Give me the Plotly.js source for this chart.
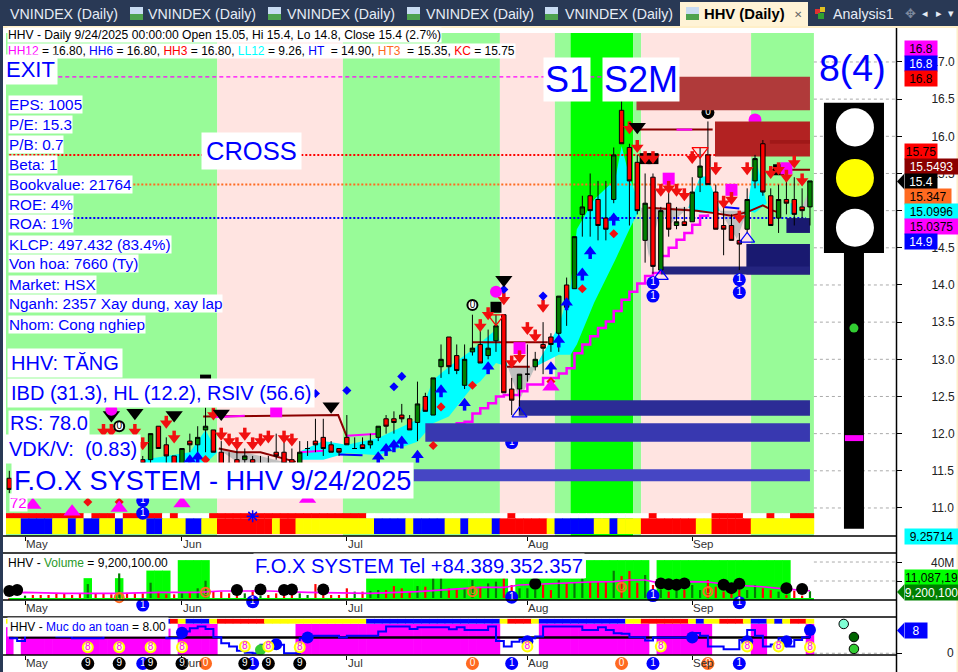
<!DOCTYPE html>
<html><head><meta charset="utf-8">
<script src="https://cdn.plot.ly/plotly-3.0.1.min.js"></script>
<style>html,body{margin:0;padding:0;background:#fff;overflow:hidden}#c{width:958px;height:672px}</style>
</head><body><div id="c"></div>
<script>
// ---------- candles (first bar index = -2, last = 100) ----------
const firstBar=-2;
const opens=[11.4,11.3,11.25,11.5,11.55,11.5,11.6,11.65,11.6,11.6,11.5,11.7,11.7,11.7,11.6,11.85,11.8,11.65,11.65,12.1,11.85,11.7,11.45,11.9,11.85,12.05,12.05,11.75,11.6,11.65,11.65,11.65,11.55,11.6,11.75,11.75,11.65,11.55,11.8,11.9,11.95,11.85,11.8,11.95,11.8,11.85,11.85,11.95,12.2,12.2,12.25,12.2,12.15,12.5,12.25,12.9,13.3,13.05,12.65,13.1,13.2,13.05,13.25,13.6,12.6,12.6,12.8,12.9,13.2,13.3,13.35,14.0,13.95,14.95,15.2,15.15,14.9,15.15,16.35,15.85,15.65,14.6,15.45,14.2,15.1,14.8,14.85,14.85,15.45,15.75,15.25,14.8,14.8,14.6,14.75,15.4,15.9,15.2,14.9,15.15,15.15,15.05,15.05];
const highs=[11.5,11.35,11.45,11.6,11.6,11.55,11.65,11.7,11.65,11.65,11.75,11.75,11.75,11.8,11.9,11.95,11.85,11.7,12.0,12.1,11.95,11.7,11.8,12.0,12.1,12.35,12.05,11.9,11.75,11.8,11.8,11.7,11.7,11.7,12.0,12.0,11.8,11.9,11.9,12.2,12.2,11.9,11.8,12.25,11.95,11.95,12.0,12.1,12.25,12.3,12.4,12.25,12.7,12.55,12.75,13.2,13.3,13.2,13.2,13.6,13.4,13.4,13.6,13.6,12.75,12.8,13.2,13.1,13.5,13.35,13.85,14.1,14.65,15.2,15.5,15.4,15.4,15.85,16.8,15.9,15.75,15.5,15.5,15.05,15.35,15.05,15.05,15.45,15.85,16.2,15.35,15.05,14.95,14.7,15.3,15.75,15.95,15.3,15.35,15.4,15.45,15.3,15.4];
const lows=[11.2,11.2,11.2,11.35,11.4,11.35,11.45,11.5,11.5,11.5,11.45,11.55,11.6,11.6,11.55,11.7,11.65,11.55,11.6,11.8,11.45,11.45,11.45,11.75,11.75,11.75,11.75,11.45,11.45,11.45,11.6,11.55,11.5,11.5,11.65,11.6,11.6,11.55,11.7,11.75,11.7,11.75,11.7,11.85,11.8,11.8,11.8,11.9,12.0,12.0,12.15,12.05,11.9,12.3,12.25,12.75,12.8,12.8,12.6,13.05,12.95,13.0,13.1,12.55,12.25,12.3,12.7,12.85,12.8,13.1,13.1,13.45,13.95,14.65,14.65,14.6,14.6,15.1,15.9,14.8,14.95,14.3,14.15,14.2,14.65,14.75,14.8,14.85,15.25,15.35,14.75,14.4,14.6,14.2,14.7,15.3,15.2,14.8,14.7,14.95,14.8,14.9,14.8];
const closes=[11.25,11.25,11.4,11.4,11.45,11.4,11.5,11.55,11.55,11.55,11.7,11.6,11.65,11.65,11.85,11.75,11.7,11.6,12.0,11.8,11.7,11.45,11.8,11.85,11.95,12.1,11.75,11.45,11.5,11.45,11.7,11.6,11.6,11.55,11.7,11.6,11.6,11.75,11.8,11.85,11.8,11.75,11.75,11.85,11.8,11.8,11.9,12.1,12.1,12.15,12.2,12.05,12.4,12.3,12.75,13.0,12.9,12.85,13.0,13.15,12.95,13.15,13.45,12.55,12.45,12.8,12.8,13.0,13.15,13.2,13.85,13.7,14.65,15.05,15.0,14.8,14.75,15.75,15.9,15.4,15.0,15.1,14.25,15.0,14.75,14.85,14.8,15.25,15.6,15.35,14.75,14.75,14.6,14.55,15.15,15.7,15.25,14.8,15.15,15.1,14.95,15.0,15.4];
const volumesM=[1.8,1.8,4.6,5.3,5.3,5.3,7,7,5.3,7,16.8,7,7,6,28,7,7,7,18.2,8.8,6,6,7,8.8,12.3,20.3,8.8,8.8,7,5.3,7,10.5,4.6,5.3,7,7,7,7,5.3,16.8,5.3,5.3,5.3,12.3,8.8,8.8,9.5,10.5,10.5,14.7,12.3,8.8,14.7,14,22.8,22.8,12.3,12.3,12.3,21,14,17.5,19.3,22.8,15.8,12.3,12.3,10.5,15.8,10.5,21,17.5,18.2,22.8,19.3,19.3,19.3,30.8,25.2,30.5,18.2,26.3,15.8,10.5,8.8,10.5,10.5,15.8,10.5,21,14,8.8,8.8,10.5,10.5,15.8,12.3,10.5,8.8,5.3,9.8,4.6,9.2];
const volBlockM=[0,0,0,0,0,0,0,0,0,0,23,0,0,0,23,0,0,0,31,31,31,0,42,42,42,42,0,0,0,0,0,0,0,0,0,0,0,0,0,0,0,0,0,0,0,0,23,23,23,23,23,23,23,23,23,23,23,23,23,23,23,23,23,23,0,23,23,23,23,23,23,23,23,23,42,42,42,42,42,42,42,42,0,42,42,42,42,42,42,42,42,42,42,42,42,42,42,42,42,42,0,0,0];
const safety=[5.2,4.25,6.3,6.3,6.3,6.3,5.75,5.75,5.2,5.2,5.2,5.2,6.3,6.3,6.3,6.3,6.3,6.3,6.3,6.3,5.2,5.2,7.5,8.6,9.2,8.4,5.5,3.45,2.3,0.9,0.2,0,2.9,3.45,2.9,0,0,5.2,6,6,6,6,5.4,6,6,6,6,7.5,9.2,9.2,9.2,8.4,9,9,9,9,8.3,9,8,8,8,9.2,4.25,2.3,4,4.9,5.2,5.75,9.2,9.2,9.2,9.2,9.2,8.05,8.05,9,8,6.9,6.7,5.5,5.5,4.4,5.4,5.4,5.4,5.4,5.4,7,6,2.3,2.3,1.4,1.4,4.6,8,6,2.3,3,5.2,2.3,4.6,5.5,8.0].slice(0,103);
// ---------- colour rows, as [state, last bar index] runs ----------
const rowA=[['w',-1],['b',3],['w',5],['b',6],['w',7],['b',9],['w',11],['b',12],['w',15],['b',17],['w',20],['b',22],['w',24],['r',31],['w',32],['r',34],['w',44],['b',48],['w',49],['b',53],['w',55],['b',56],['w',59],['b',60],['r',66],['w',67],['b',72],['w',74],['b',75],['w',78],['r',85],['w',87],['r',92],['w',100]];
const rowB=[['r',7],['n',8],['r',11],['n',12],['r',17],['n',18],['r',19],['n',23],['r',43],['n',61],['r',62],['n',79],['r',80],['n',87],['r',91],['n',94],['r',95],['n',97],['r',100]];
const rowC=[['w',-2],['b',3],['w',5],['b',9],['w',12],['b',18],['r',19],['w',20],['b',23],['w',24],['r',30],['w',43],['b',60],['w',61],['r',64],['w',65],['b',76],['w',78],['r',84],['w',85],['b',86],['w',88],['r',91],['w',92],['b',94],['w',95],['b',96],['w',97],['r',99],['w',100]];
const pinkRuns=[[-2,-2,9],[0,18,8.5],[20,24,10.1],[35,60,10.1],[66,79,10.1],[81,87,10.1],[93,94,10.1],[100,100,10.1]];
// ---------- background bands and zones ----------
const bandEdges=[-2.5,24.5,40.5,60.5,67.5,69.5,77.5,78.5,92.5,100.5];
const bandKinds=['pale','mist','pale','mist','pale','lime','pale','mist','pale'];
const zoneK0=[77.9,87.9,94.9,97,91.9,81,62.9,51,49.5];
const zoneK1=[100,100,100,100,100,100,100,100,100];
const zoneHi=[16.8,16.2,15.95,14.9,14.55,14.25,12.45,12.14,11.52];
const zoneLo=[16.35,15.73,15.9,14.7,14.14,14.14,12.24,11.89,11.36];
const zoneFill=['#B03A3A','#B22222','#A01818','#191970','#191970','#24247F','#2C2C96','#3838B0','#4646C4'];
// ---------- cloud ----------
const cloudSegs=[
 {k:[13,15,21,23,24.5],up:[11.6,11.65,11.75,12.05,11.75],lo:[11.55,11.55,11.55,11.6,11.75],c:'#00FFFF'},
 {k:[24.5,28,33,35],up:[11.8,11.75,11.62,11.6],lo:[11.8,11.55,11.55,11.6],c:'#C0C0C0'},
 {k:[35,38,41,45,50,52,54,57,58,60,61.5],up:[11.76,11.9,11.85,11.94,12.19,12.72,12.9,13.13,13.22,13.4,12.9],lo:[11.65,11.65,11.74,11.71,11.89,12.14,12.23,12.63,12.7,12.95,12.9],c:'#00FFFF'},
 {k:[61.5,63,65],up:[12.9,12.9,12.9],lo:[12.9,12.45,12.9],c:'#C0C0C0'},
 {k:[65,68,69.5,70.3,72.5,75.2,76,77,78.4],up:[12.9,13.44,13.98,14.75,15.15,15.42,15.87,15.46,15.04],lo:[12.9,13.06,13.06,13.2,13.76,14.34,14.52,14.75,15.04],c:'#00FFFF'},
 {k:[78.4,79.5,81],up:[15.04,15.04,15.04],lo:[15.04,14.37,15.04],c:'#C0C0C0'},
 {k:[81,82,84.5],up:[15.04,15.04,15.04],lo:[15.04,14.8,15.04],c:'#C0C0C0'},
 {k:[84.5,86,87,88.5],up:[15.04,15.46,15.46,15.0],lo:[15.04,14.97,14.97,15.0],c:'#00FFFF'},
 {k:[88.5,90.7,92],up:[15.0,15.0,15.0],lo:[15.0,14.62,15.0],c:'#C0C0C0'},
 {k:[92,93,94.5],up:[15.0,15.74,15.1],lo:[15.0,14.97,15.1],c:'#00FFFF'},
 {k:[97.5,98.4],up:[15.1,15.1],lo:[14.95,14.95],c:'#00FFFF'},
 {k:[99,100],up:[15.05,15.3],lo:[15.05,15.05],c:'#C0C0C0'}
];
// ---------- lines ----------
const stepK=[52,53,54,55,56,57,58,59,60,61,62,63,64,65,66,67,68,69,70,71,72,73,74,75,76,77,78,79,80,81,82,83,84,85,86,87];
const stepP=[11.92,12.0,12.05,12.14,12.16,12.27,12.34,12.41,12.5,12.52,12.52,12.57,12.66,12.66,12.75,12.75,12.81,12.88,13.08,13.2,13.31,13.42,13.51,13.65,13.8,13.91,14.02,14.12,14.16,14.39,14.5,14.61,14.7,14.81,14.93,14.95];
const darkLines=[
 {k:[22.7,39.9,41],p:[12.23,12.25,11.96]},
 {k:[24.7,27,30,33,34.5],p:[11.8,11.75,11.75,11.67,11.62]},
 {k:[57,66.6],p:[13.23,13.23]},
 {k:[61.4,64.3],p:[12.9,12.9]},
 {k:[78,87.6],p:[16.09,16.09]},
 {k:[79.4,85.6,87.6,90,92,94,95.3,96.2],p:[15.04,15.0,14.97,14.93,14.98,15.07,15.0,14.97]},
 {k:[94.9,100],p:[15.55,15.55]}
];
const magentaBits=[{k:[41,45],p:[11.97,12.0]},{k:[35,38],p:[11.75,11.77]},{k:[83,85],p:[16.09,16.09]},{k:[24,28],p:[12.22,12.24]}];
const blueBits=[{k:[40,43],p:[11.72,11.71]},{k:[89,91],p:[15.05,15.03]}];
const levelP=[16.8,15.75,15.35,14.9];
const levelEnd=[81,88,99,99.5];
// ---------- markers ----------
const downK=[10,11,14,15,18,19,24,25,26,27,28,29,30,31,33,34,58,59,61,62,63,64,65,66,77,78,79,80,81,82,83,84,85,88,89,90,91,92,95,96,97,98,99];
const downP=[12.03,12.03,12.03,11.85,12.14,11.94,12.25,11.98,11.9,11.85,11.98,11.85,11.9,11.94,11.94,11.9,13.44,13.6,13.8,12.95,13.02,13.4,13.3,13.7,16.1,15.85,15.7,15.7,15.26,15.3,15.26,15.2,15.7,15.55,15.1,15.15,14.9,15.55,15.5,15.55,15.45,15.64,15.4];
const upK=[21,22,45,46,47,48,50,53,56,59,67,68,69,71,72,75];
const upP=[11.65,11.69,11.69,11.8,11.85,11.9,11.71,12.59,12.41,12.9,12.9,13.26,13.76,14.16,14.45,14.9];
const blueDiaK=[37,41,47,48,61,66];
const blueDiaP=[12.54,12.58,12.63,12.77,13.94,13.85];
const redDiaK=[8,12,23,52,53,57,67,71,75];
const redDiaP=[11.08,11.08,11.65,11.84,12.36,12.65,12.7,13.95,14.69];
const magTriK=[1,6,12,20,36,67];
const magTriP=[11.04,10.95,11.0,11.06,11.12,12.63];
const blackTriK=[11,14,19,25,39,61,78];
const blackTriP=[12.25,12.28,12.25,12.27,12.37,14.07,16.13];
const blackSqK=[23,60,79,80,96];
const blackSqP=[12.72,13.7,15.7,15.7,15.55];
const magSqK=[32,63,82,90,97];
const magSqP=[12.3,13.15,15.43,15.28,15.57];
const magDotK=[60,11];
const magDotP=[13.91,12.32];
const hollowRedK=[60,86];
const hollowRedP=[13.55,15.8];
const hollowBlueK=[63,81,92];
const hollowBlueP=[12.27,14.12,14.62];
const zeroK=[12,57];
const zeroP=[12.1,13.73];
const oneK=[15,15,80,80,91,91];
const oneP=[11.1,10.93,14.03,13.85,14.07,13.9];
const hiddenK=[87,62,62,93];
const hiddenP=[16.32,12.0,11.88,16.22];
const hiddenT=['0','1','1',''];
const hiddenC=['#000','#00f','#00f','#f0f'];
// ---------- lower panels ----------
const maK=[-2,0,5,12,17,22,25,31,36,44,50,53,55,58,61,63,66,69,72,75,77,79,81,85,87,90,94,97,100];
const maV=[7,8,7,7,8,8,9.5,9.5,8,7,8.8,10.5,12.3,13.3,13.3,15.8,16.8,18.2,18.9,19.3,21,21,17.5,19.3,19,15.8,14,11.5,9.7];
const volDotK=[-2,-1,27,30,33,34,38,65,81,82,83,84,89,90,91,97,99];
const volDotV=[9.5,10.5,10.5,11,10.5,11,11,17,17.5,16.5,16,17.5,16,12.5,17,12.5,11.5];
const volZeroK=[12,23,57,76,87];
const volZeroV=[2.5,8.2,8.8,13.5,8.8];
const volOneK=[62,80];
const volOneV=[3,4.7];
const stripOneK=[15,29,91];
const stripOneV=[0.7,0.9,0.84];
const dotK=[20,32,36,64,85,92,97,100];
const dotV=[7.1,3.1,5.4,4.1,5.4,4.1,4.1,8];
const yellowK=[8,12,16,20,28,31,35,64,81,92,96,100];
const yellowV=[2.1,2.1,2.1,2.1,2.3,2.3,2.1,2.3,2.3,2.3,2.3,2.1];
const nineK=[8,12,16,20,28,31,35];
const oneBelowK=[15,29,62,80,91];
const zeroBelowK=[23,57,76,87];
const belowV=0.5;
const monthK=[0,20,41,64,85];
const monthNames=['May','Jun','Jul','Aug','Sep'];
const priceTicks=[11,11.5,12,12.5,13,13.5,14,14.5,15,15.5,16,16.5,17];
const priceTickText=['11.0','11.5','12.0','12.5','13.0','13.5','14.0','14.5','15.0','15.5','16.0','16.5','17.0'];
const infoLines=['EPS: 1005','P/E: 15.3','P/B: 0.7','Beta: 1','Bookvalue: 21764','ROE: 4%','ROA: 1%','KLCP: 497.432 (83.4%)','Von hoa: 7660 (Ty)','Market: HSX','Nganh: 2357 Xay dung, xay lap','Nhom: Cong nghiep'];
const tabNames=['VNINDEX (Daily)','VNINDEX (Daily)','VNINDEX (Daily)','VNINDEX (Daily)','VNINDEX (Daily)'];
const priceTagText=['16.8','16.8','16.8','15.75','15.5493','15.4','15.347','15.0996','15.0375','14.9'];
const priceTagFill=['#FF00FF','#0000FF','#FF0000','#FF0000','#8B0000','#000000','#FF6A20','#00FFFF','#FF00FF','#0000FF'];
const priceTagInk=['#000','#fff','#000','#000','#fff','#fff','#000','#000','#000','#fff'];

// ---------- helpers ----------
const bars=opens.map((_,i)=>firstBar+i);
const W=958,H=672,BLUE='#0000FF',BW=1.08;
const px=x=>x/W, py=y=>1-y/H;
const colorOf={w:'#FFFF00',b:'#0000FF',r:'#FF0000',n:'#FFFFFF'};
const bandFill={pale:'#98FB98',mist:'#FFE4E1',lime:'#00FF00'};
const expand=r=>{const a=[];let k=firstBar;r.forEach(([s,e])=>{for(;k<=e;k++)a.push(colorOf[s]);});return a;};

const shapes=[];
const rect=(x0,y0,x1,y1,fill)=>shapes.push({type:'rect',xref:'paper',yref:'paper',x0:px(x0),x1:px(x1),y0:py(y0),y1:py(y1),fillcolor:fill,line:{width:0},layer:'below'});
rect(0,0,958,26,'#293955');rect(0,26,958,28,'#FFEFC8');rect(0,26,3,672,'#293955');rect(956.5,26,958,672,'#FFEFC8');rect(680,2,808,26,'#FFF3D6');
for(let i=0;i<bandKinds.length;i++)shapes.push({type:'rect',xref:'x',yref:'y',x0:bandEdges[i],x1:bandEdges[i+1],y0:10.62,y1:17.39,fillcolor:bandFill[bandKinds[i]],line:{width:0},layer:'below'});
priceTicks.forEach(p=>shapes.push({type:'line',xref:'x',yref:'y',x0:100.5,x1:110.96,y0:p,y1:p,line:{color:'#aaa',width:1,dash:'dot'},layer:'below'}));
[40,20].forEach(v=>shapes.push({type:'line',xref:'x2',yref:'y2',x0:100.5,x1:110.96,y0:v,y1:v,line:{color:'#aaa',width:1,dash:'dot'},layer:'below'}));
shapes.push({type:'line',xref:'x3',yref:'y3',x0:100.5,x1:110.96,y0:0,y1:0,line:{color:'#aaa',width:1,dash:'dot'},layer:'below'});
const sr=(x0,x1,y0,y1,f)=>shapes.push({type:'rect',xref:'x',yref:'y',x0,x1,y0,y1,fillcolor:f,line:{width:0},layer:'below'});
sr(101.78,109.43,14.43,16.45,'#000');sr(104.33,106.88,10.72,14.43,'#000');sr(104.45,106.8,11.9,11.98,'#FF00FF');
[[16.12,'#fff'],[15.44,'#FFFF00'],[14.77,'#fff']].forEach(([p,f])=>shapes.push({type:'circle',xref:'x',yref:'y',x0:105.73-2.42,x1:105.73+2.42,y0:p-0.256,y1:p+0.256,fillcolor:f,line:{width:0},layer:'below'}));
[536,553,600,617,655].forEach(y=>shapes.push({type:'line',xref:'paper',yref:'paper',x0:px(3),x1:px(896.5),y0:py(y),y1:py(y),line:{color:'#000',width:1.5}}));
shapes.push({type:'line',xref:'paper',yref:'paper',x0:px(896.5),x1:px(896.5),y0:py(28),y1:0,line:{color:'#000',width:1.5}});
[[181.5,'#000'],[592,'#008000'],[630.5,'#0000FF']].forEach(([y,f])=>shapes.push({type:'path',xref:'paper',yref:'paper',path:`M ${px(897)} ${py(y)} L ${px(904)} ${py(y-7.5)} L ${px(904)} ${py(y+7.5)} Z`,fillcolor:f,line:{width:0}}));
[130,268,407,545,686].forEach(x=>{rect(x,7,x+13,20,'#C9DCF2');rect(x,14,x+13,20,'#4EA24E');});
rect(815,9,820,14,'#E03030');rect(820,7,825,12,'#E0C020');rect(818,13,824,19,'#30A030');

const T=[];
cloudSegs.forEach(s=>T.push({x:s.k.concat(s.k.slice().reverse()),y:s.up.concat(s.lo.slice().reverse()),mode:'lines',fill:'toself',fillcolor:s.c,line:{width:0},hoverinfo:'skip'}));
const levelStyle=[['#FF00FF','4px,3px',1.3],['#FF0000','2px,2px',2],['#FF6A20','2px,2px',2],['#0000FF','2px,2px',2]];
levelP.forEach((p,i)=>T.push({x:[firstBar,levelEnd[i]],y:[p,p],mode:'lines',line:{color:levelStyle[i][0],dash:levelStyle[i][1],width:levelStyle[i][2]}}));
darkLines.forEach(d=>T.push({x:d.k,y:d.p,mode:'lines',line:{color:'#8B0000',width:2}}));
magentaBits.forEach(d=>T.push({x:d.k,y:d.p,mode:'lines',line:{color:'#FF00FF',width:2}}));
blueBits.forEach(d=>T.push({x:d.k,y:d.p,mode:'lines',line:{color:'#0000FF',width:2}}));
T.push({x:stepK,y:stepP,mode:'lines',line:{color:'#FF00FF',width:2.5,shape:'hv'}});
const digit=(x,y,t,fill,ink,ya,xa,sz,lc)=>({x,y,text:t,mode:'markers+text',textposition:'middle center',cliponaxis:false,xaxis:xa||'x',yaxis:ya||'y',
  marker:{size:sz||13,color:fill,line:{color:lc||fill,width:lc?2:0}},textfont:{family:'Liberation Sans',size:10,color:ink}});
T.push({x:hiddenK,y:hiddenP,text:hiddenT,mode:'markers+text',textposition:'middle center',marker:{size:13,color:hiddenC},textfont:{size:10,color:'#fff',family:'Liberation Sans'}});
zoneHi.forEach((h,i)=>T.push({x:[zoneK0[i],zoneK1[i],zoneK1[i],zoneK0[i]],y:[h,h,zoneLo[i],zoneLo[i]],mode:'lines',fill:'toself',fillcolor:zoneFill[i],line:{width:0}}));
T.push({type:'bar',x:bars,y:bars.map(()=>0.07),base:10.86,width:BW,marker:{color:expand(rowB),line:{width:0}}});
T.push({type:'bar',x:bars,y:bars.map(()=>0.21),base:10.65,width:BW,marker:{color:expand(rowA),line:{width:0}}});
T.push({type:'candlestick',x:bars,open:opens,high:highs,low:lows,close:closes,xaxis:'x',yaxis:'y4',whiskerwidth:0,
  increasing:{line:{color:'#000',width:1},fillcolor:'#008000'},decreasing:{line:{color:'#000',width:1},fillcolor:'#FF0000'}});
const mk=(x,y,symbol,size,color,extra)=>Object.assign({x,y,mode:'markers',cliponaxis:false,xaxis:'x',yaxis:'y5',marker:{symbol,size,color,line:{width:0}}},extra||{});
T.push(mk(blackSqK,blackSqP,'square',11,'#000'));
T.push(mk(magSqK,magSqP,'square',12,'#FF00FF'));
T.push(mk(downK,downP,'triangle-down',11,'#F01010',{error_y:{type:'constant',symmetric:false,value:0.1,valueminus:0,thickness:3.5,width:0,color:'#F01010'}}));
T.push(mk(upK,upP,'triangle-up',11,'#0000FF',{error_y:{type:'constant',symmetric:false,value:0,valueminus:0.1,thickness:3.5,width:0,color:'#0000FF'}}));
T.push(mk(blueDiaK,blueDiaP,'diamond',7,'#0000FF'));
T.push(mk(redDiaK,redDiaP,'diamond',7,'#F01010'));
T.push(mk(magTriK,magTriP,'triangle-up',15,'#FF00FF'));
T.push(mk(blackTriK,blackTriP,'triangle-down',15,'#000'));
T.push(mk(magDotK,magDotP,'circle',12,'#FF00FF'));
T.push({x:hollowRedK,y:hollowRedP,mode:'markers',xaxis:'x',yaxis:'y5',marker:{symbol:'triangle-down-open',size:14,color:'#FF0000',line:{width:1.2,color:'#FF0000'}}});
T.push({x:hollowBlueK,y:hollowBlueP,mode:'markers',xaxis:'x',yaxis:'y5',marker:{symbol:'triangle-up-open',size:13,color:'#0000FF',line:{width:1.2,color:'#0000FF'}}});
T.push(digit(zeroK,zeroP,zeroK.map(()=>'0'),'#fff','#000','y5','x',10,'#000'));
T.push(digit(oneK,oneP,oneK.map(()=>'1'),'#0000FF','#fff','y5'));
T.push(mk([105.6],[13.42],'circle',9,'#32CD32'));
T.push(mk([29],[10.89],'asterisk-open',10,'#0000FF',{marker:{symbol:'asterisk-open',size:10,color:'#0000FF',line:{color:'#0000FF',width:1.5}}}));
T.push({type:'bar',x:bars,y:volBlockM,width:BW,xaxis:'x2',yaxis:'y2',marker:{color:'#00FF00',line:{width:0}}});
T.push({x:[firstBar,100.5],y:[1,1],mode:'lines',xaxis:'x2',yaxis:'y2',line:{color:'#00FF00',width:2}});
T.push({type:'bar',x:bars,y:volumesM,width:0.28,xaxis:'x2',yaxis:'y2',marker:{color:bars.map((_,i)=>closes[i]>=opens[i]?'#067A06':'#FF0000'),line:{width:0}}});
T.push({x:maK,y:maV,mode:'lines',xaxis:'x2',yaxis:'y2',line:{color:'#FF00FF',width:1.6}});
T.push({x:volDotK,y:volDotV,mode:'markers',cliponaxis:false,xaxis:'x2',yaxis:'y2',marker:{size:12,color:'#000'}});
T.push(digit(volZeroK,volZeroV,volZeroK.map(()=>'0'),'rgba(255,255,255,0)','#FF6A20','y2','x2',9,'#FF6A20'));
T.push(digit(volOneK,volOneV,volOneK.map(()=>'1'),'#0000FF','#fff','y2','x2'));
T.push(digit(stripOneK,stripOneV,stripOneK.map(()=>'1'),'#0000FF','#fff','y7','x5'));
T.push({type:'bar',x:bars,y:bars.map(()=>1.65),base:10.2,width:BW,xaxis:'x3',yaxis:'y3',marker:{color:expand(rowC),line:{width:0}}});
pinkRuns.forEach(([a,b,top])=>{const xs=[];for(let k=a;k<=b;k++)xs.push(k);T.push({type:'bar',x:xs,y:xs.map(()=>top+0.6),base:-0.6,width:BW,xaxis:'x3',yaxis:'y3',marker:{color:'#FF00FF',line:{width:0}}});});
T.push({x:[firstBar,100],y:[5.4,5.4],mode:'lines',xaxis:'x3',yaxis:'y3',line:{color:'#000',width:2.5}});
T.push({x:bars,y:safety,mode:'lines',xaxis:'x3',yaxis:'y3',line:{color:'#0000FF',width:2,shape:'hv'}});
T.push({x:dotK,y:dotV,mode:'markers',cliponaxis:false,xaxis:'x3',yaxis:'y3',marker:{size:12,color:'#0000FF'}});
T.push({x:[30],y:[1.2],mode:'markers',cliponaxis:false,xaxis:'x3',yaxis:'y3',marker:{size:11,color:'#32CD32'}});
T.push({x:[104.3,105.6,105.6],y:[10.1,5.6,1.5],mode:'markers',cliponaxis:false,xaxis:'x3',yaxis:'y3',marker:{size:9.5,color:['#7FFFD4','#006400','#32CD32'],line:{color:'#000',width:1}}});
T.push(digit(yellowK,yellowV,yellowK.map(()=>'8'),'#FFFFC0','#FF00FF','y3','x3',10,'#FFFF00'));
T.push(digit(oneBelowK,oneBelowK.map(()=>belowV),oneBelowK.map(()=>'1'),'#0000FF','#fff','y6','x4'));
T.push(digit(nineK,nineK.map(()=>belowV),nineK.map(()=>'9'),'#000','#fff','y6','x4'));
T.push(digit(zeroBelowK,zeroBelowK.map(()=>belowV),zeroBelowK.map(()=>'0'),'#FF6A20','#fff','y6','x4'));

const F='Liberation Sans';
const A=[];
const ann=(text,x,y,size,color,o)=>A.push(Object.assign({text,xref:'paper',yref:'paper',x:px(x),y:py(y),xanchor:'left',yanchor:'middle',showarrow:false,font:{family:F,size,color},borderpad:0},o||{}));
const tabX=[9,147,286,425,564];
tabNames.forEach((t,i)=>ann(t,tabX[i],14.5,14.2,'#E6ECF5'));
ann('<b>HHV (Daily)</b>',703,14.5,14.8,'#000');
ann('✕',793,14.5,10,'#666');
ann('Analysis1',832,14.5,14.2,'#E6ECF5');
ann('✥',904,13.5,13,'#7f8ba0');
ann('◂',921,13,11,'#E6ECF5');ann('▸',935,13,11,'#E6ECF5');ann('▾',947,13,11,'#E6ECF5');
ann('HHV - Daily 9/24/2025 00:00:00 Open 15.05, Hi 15.4, Lo 14.8, Close 15.4 (2.7%)',7,35.5,12.1,'#000',{bgcolor:'#fff'});
ann('<span style="color:#f0f">HH12</span> = 16.80, <span style="color:#00f">HH6</span> = 16.80, <span style="color:#f00">HH3</span> = 16.80, <span style="color:#0ff">LL12</span> = 9.26, <span style="color:#00f">HT</span>  = 14.90, <span style="color:#FF6A20">HT3</span>  = 15.35, <span style="color:#f00">KC</span> = 15.75',7,50.5,12,'#000',{bgcolor:'#fff'});
ann('EXIT',3,70,22,BLUE,{bgcolor:'#fff',borderpad:2});
ann('CROSS',201,151,25.5,BLUE,{bgcolor:'#fff',borderpad:4});
ann('S1',543,79,36,BLUE,{bgcolor:'#fff',borderpad:1});
ann('S2M',602,79,36,BLUE,{bgcolor:'#fff',borderpad:1});
ann('8(4)',818,68,37.5,BLUE);
infoLines.forEach((t,i)=>ann(t,8,104+20*i,15.3,BLUE,{bgcolor:'#fff',borderpad:0}));
ann('HHV: TĂNG',7,363,20,BLUE,{bgcolor:'#fff',borderpad:3});
ann('IBD (31.3), HL (12.2), RSIV (56.6)',7,393,20,BLUE,{bgcolor:'#fff',borderpad:3});
ann('RS: 78.0',8,423,20,BLUE,{bgcolor:'#fff',borderpad:1});
ann('VDK/V:  (0.83)',5,449,20,BLUE,{bgcolor:'#fff',borderpad:3});
ann('72',9,502,15,'#FF00FF',{bgcolor:'#fff'});
ann('F.O.X SYSTEM - HHV 9/24/2025',11,480,27.2,BLUE,{bgcolor:'#fff',borderpad:2});
ann('F.O.X SYSTEM Tel +84.389.352.357',253,566,20.2,BLUE,{bgcolor:'#fff',borderpad:1});
ann('HHV - <span style="color:#2a9a2a">Volume</span> = 9,200,100.00',7,563,12,'#000');
ann('HHV - <span style="color:#00f">Muc do an toan</span> = 8.00',7,627,12,'#000',{bgcolor:'#fff',borderpad:2});
[[544,'x'],[608,'x2'],[663,'x3']].forEach(([y,xr])=>monthK.forEach((k,i)=>A.push({text:monthNames[i],xref:xr,yref:'paper',x:k,y:py(y),xanchor:'left',yanchor:'middle',xshift:-1,showarrow:false,font:{family:F,size:11.5,color:'#333'}})));
const tagY=[48.5,63.5,78.5,151.5,166.5,181.5,196.5,211.5,226.5,241.5];
const tagW=[32,32,32,32,53,32,46,53,53,32];
priceTagText.forEach((t,i)=>ann(t,904,tagY[i],12,priceTagInk[i],{bgcolor:priceTagFill[i],width:tagW[i],height:15,align:'center'}));
ann('9.25714',904,536,12,'#000',{bgcolor:'#00FFFF',width:53,height:15,align:'center'});
ann('40M',930,563,12,'#222');
ann('11,087,19',904,577.5,12,'#000',{bgcolor:'#00FF00',width:53,height:15,align:'center'});
ann('9,200,100',904,592,12,'#fff',{bgcolor:'#008000',width:53,height:15,align:'center'});
ann('8',904,630.5,12,'#fff',{bgcolor:'#0000FF',width:22,height:15,align:'center'});
ann('0',946,653,12,'#222');

const X={range:[-2.42,110.96],domain:[px(6),px(896)],showgrid:false,zeroline:false,showline:false,ticks:'outside',ticklen:4,tickcolor:'#000',tickwidth:1,tickvals:monthK,showticklabels:false,fixedrange:true,rangeslider:{visible:false}};
const Xhidden={range:[-2.42,110.96],domain:[px(6),px(896)],visible:false,fixedrange:true};
const Yhidden={range:[0,1],visible:false,fixedrange:true};
const layout={width:W,height:H,margin:{l:0,r:0,t:0,b:0},paper_bgcolor:'rgba(0,0,0,0)',plot_bgcolor:'rgba(0,0,0,0)',showlegend:false,barmode:'overlay',hovermode:false,boxgap:0.2,
 xaxis:Object.assign({},X,{anchor:'y'}),xaxis2:Object.assign({},X,{anchor:'y2'}),xaxis3:Object.assign({},X,{anchor:'y3'}),
 xaxis4:Object.assign({},Xhidden,{anchor:'y6'}),xaxis5:Object.assign({},Xhidden,{anchor:'y7'}),
 yaxis:{domain:[py(536),py(28)],range:[10.623,17.457],side:'right',anchor:'x',showgrid:false,zeroline:false,showline:false,ticks:'outside',ticklen:5,tickcolor:'#000',tickvals:priceTicks,ticktext:priceTickText,ticklabelstandoff:27,tickfont:{family:F,size:12,color:'#222'},fixedrange:true},
 yaxis2:{domain:[py(600),py(553)],range:[0,49.5],side:'right',anchor:'x2',showgrid:false,zeroline:false,ticks:'outside',ticklen:5,tickcolor:'#000',tickvals:[40,20],showticklabels:false,fixedrange:true},
 yaxis3:{domain:[py(655),py(617)],range:[-0.6,12.5],side:'right',anchor:'x3',showgrid:false,zeroline:false,ticks:'outside',ticklen:5,tickcolor:'#000',tickvals:[0],showticklabels:false,fixedrange:true},
 yaxis4:{domain:[py(536),py(28)],range:[10.623,17.457],overlaying:'y',anchor:'x',visible:false,fixedrange:true},
 yaxis5:{domain:[py(536),py(28)],range:[10.623,17.457],overlaying:'y',anchor:'x',visible:false,fixedrange:true},
 yaxis6:Object.assign({},Yhidden,{domain:[py(672),py(655)],anchor:'x4'}),
 yaxis7:Object.assign({},Yhidden,{domain:[py(617),py(600)],anchor:'x5'}),
 shapes,annotations:A};
Plotly.newPlot('c',T,layout,{displayModeBar:false,staticPlot:true});
</script></body></html>
